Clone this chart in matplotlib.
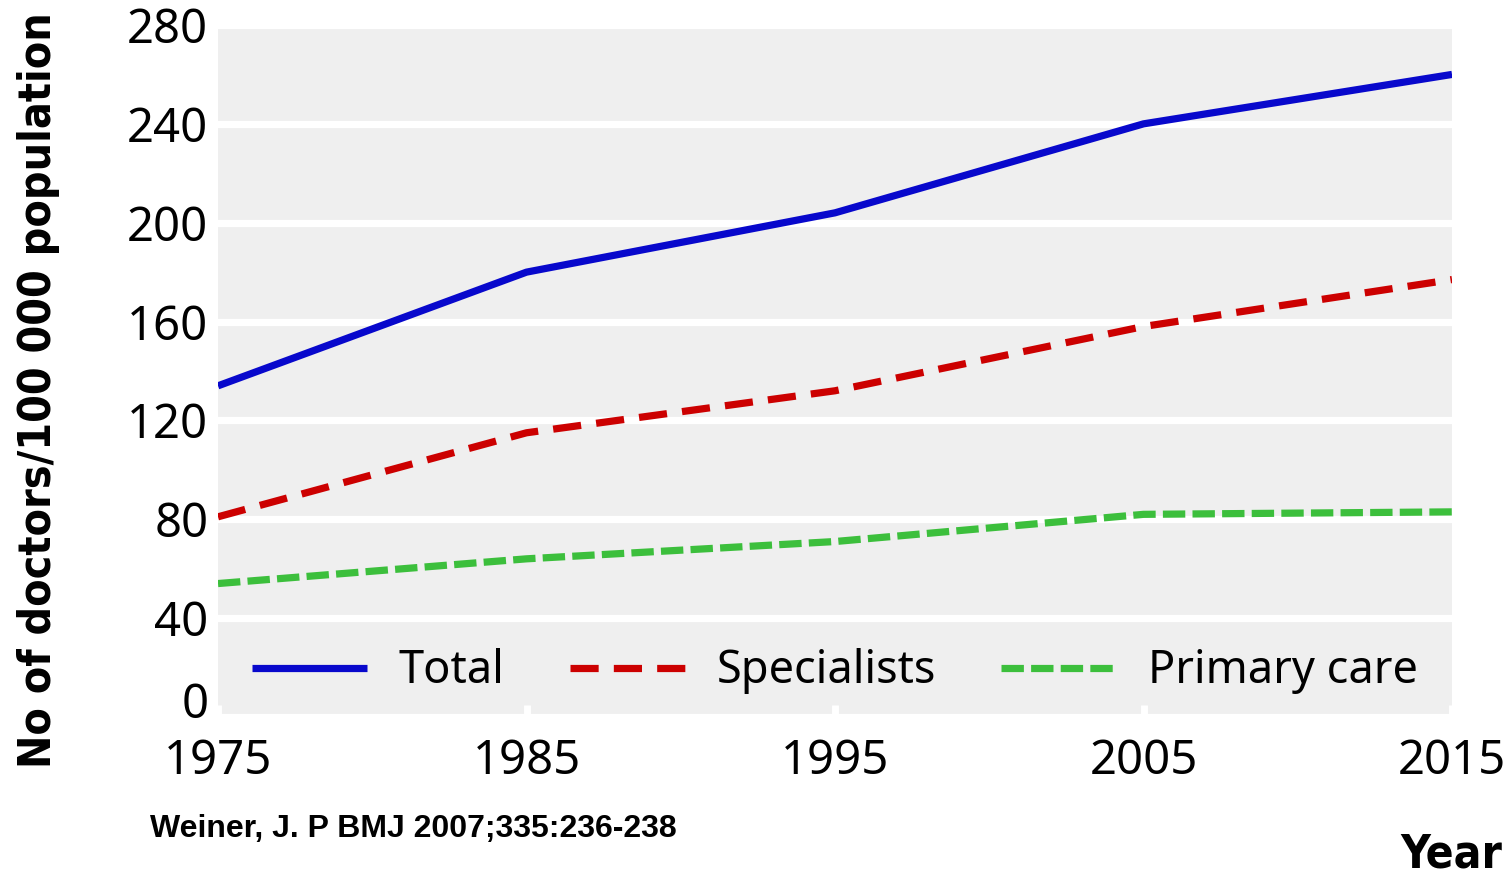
import matplotlib
matplotlib.use("Agg")
import matplotlib.pyplot as plt
import matplotlib.transforms as mtransforms

years = [1975, 1985, 1995, 2005, 2015]
total = [134, 180, 204, 240, 260]
specialists = [81, 115, 132, 158, 177]
primary_care = [54, 64, 71, 82, 83]
y_ticks = [0, 40, 80, 120, 160, 200, 240, 280]
series_labels = ["Total", "Specialists", "Primary care"]

fig = plt.figure(figsize=(15.1, 8.75), dpi=100)
ax = fig.add_axes([218/1510, 1-717/875, (1452-218)/1510, (717-25)/875])
ax.set_facecolor("#efefef")
for s in ax.spines.values():
    s.set_visible(False)

ax.set_xlim(1975, 2015)
ax.set_ylim(0, 280)
ax.set_yticks(y_ticks)
ax.set_xticks(years)
ax.yaxis.grid(True, color="white", linewidth=5.2)
ax.set_axisbelow(True)

lw = 5.2
ax.plot(years, total, color="#0808cc", lw=lw, solid_capstyle="butt", label=series_labels[0])
ax.plot(years, specialists, color="#cc0000", lw=lw, dashes=(3.9, 2.1), label=series_labels[1])
ax.plot(years, primary_care, color="#3cbf3c", lw=lw, dashes=(3.1, 1.0), label=series_labels[2])

tick_font = "Noto Sans"
ax.tick_params(axis="y", length=0, pad=7, labelsize=34)
ax.tick_params(axis="x", direction="in", length=9, width=5, color="white", pad=15, labelsize=34)
for lab in ax.get_yticklabels() + ax.get_xticklabels():
    lab.set_fontfamily(tick_font)

# shift the "0" label upward as in the original
zero_lab = ax.get_yticklabels()[0]
zero_lab.set_transform(zero_lab.get_transform() + mtransforms.ScaledTranslation(0, 17/100, fig.dpi_scale_trans))

leg = ax.legend(loc="lower center", bbox_to_anchor=(0.5, 0.0), ncol=3, frameon=False,
                prop={"family": tick_font, "size": 32.5}, handlelength=2.55,
                handletextpad=0.7, columnspacing=1.45, borderaxespad=0.1)

fig.text(39/1510, 1-390/875, "No of doctors/100 000 population", rotation=90,
         ha="center", va="center", fontsize=32, fontweight="heavy", fontstretch="condensed",
         family=["DejaVu Sans"])
fig.text(150/1510, 1-829/875, "Weiner, J. P BMJ 2007;335:236-238", ha="left", va="center",
         fontsize=23, fontweight="bold", family=["Liberation Sans", "DejaVu Sans"])
fig.text(1502/1510, 1-855/875, "Year", ha="right", va="center", fontsize=33,
         fontweight="heavy", fontstretch="condensed", family=["DejaVu Sans"])

fig.savefig("out.png", dpi=100)
